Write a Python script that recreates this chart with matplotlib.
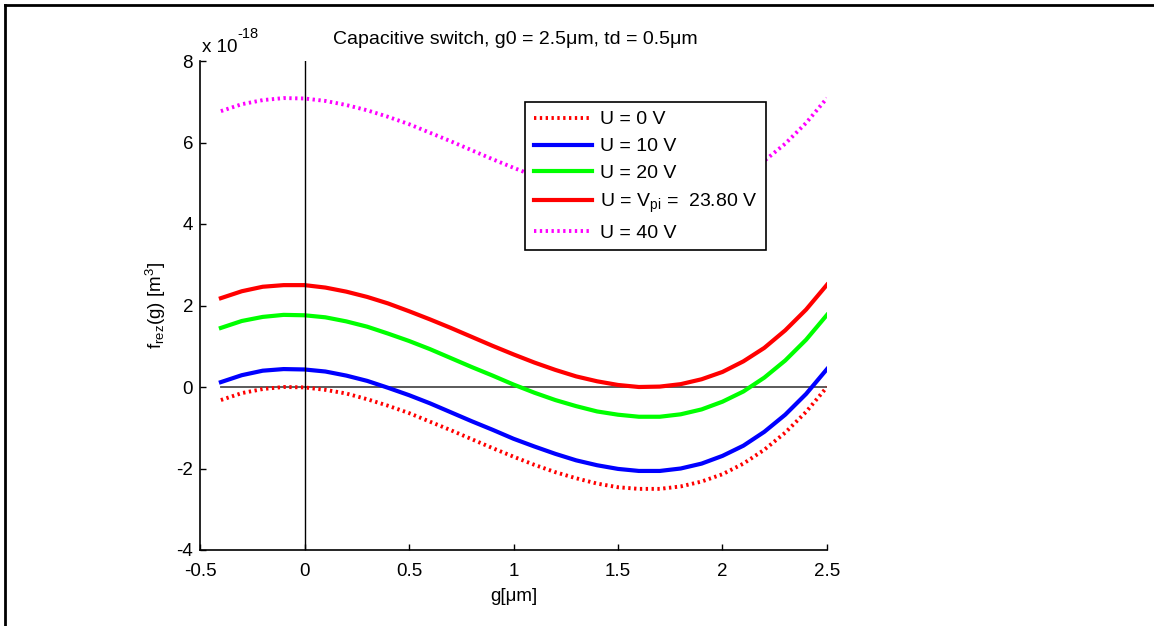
import matplotlib

matplotlib.use("Agg")
import matplotlib.pyplot as plt
from matplotlib.lines import Line2D

plt.rcParams["font.family"] = ["Liberation Sans", "DejaVu Sans"]
plt.rcParams["mathtext.fontset"] = "custom"
plt.rcParams["mathtext.rm"] = "Liberation Sans"
plt.rcParams["mathtext.it"] = "Liberation Sans"
plt.rcParams["axes.unicode_minus"] = False

# gap g in um
g = [-0.4, -0.3, -0.2, -0.1, 0.0, 0.1, 0.2, 0.3, 0.4, 0.5,
     0.6, 0.7, 0.8, 0.9, 1.0, 1.1, 1.2, 1.3, 1.4, 1.5,
     1.6, 1.7, 1.8, 1.9, 2.0, 2.1, 2.2, 2.3, 2.4, 2.5]

# f_rez(g) in units of 1e-18 m^3
u0 = [-0.32, -0.15, -0.05, -0.00, -0.01, -0.07, -0.16, -0.30, -0.46, -0.64,
      -0.85, -1.06, -1.28, -1.50, -1.71, -1.91, -2.09, -2.24, -2.37, -2.46,
      -2.50, -2.50, -2.44, -2.32, -2.14, -1.88, -1.54, -1.12, -0.61, 0.00]
u10 = [0.12, 0.29, 0.40, 0.44, 0.43, 0.38, 0.28, 0.15, -0.02, -0.20,
       -0.40, -0.62, -0.84, -1.05, -1.27, -1.46, -1.64, -1.80, -1.92, -2.01,
       -2.06, -2.06, -2.00, -1.88, -1.69, -1.44, -1.10, -0.68, -0.17, 0.44]
u20 = [1.45, 1.62, 1.72, 1.77, 1.76, 1.71, 1.61, 1.48, 1.31, 1.13,
       0.93, 0.71, 0.49, 0.28, 0.06, -0.14, -0.32, -0.47, -0.60, -0.68,
       -0.73, -0.73, -0.67, -0.55, -0.36, -0.11, 0.23, 0.65, 1.16, 1.77]
u_pi = [2.18, 2.35, 2.46, 2.50, 2.50, 2.44, 2.34, 2.21, 2.05, 1.86,
        1.66, 1.45, 1.23, 1.01, 0.80, 0.60, 0.42, 0.26, 0.14, 0.05,
        0.00, 0.01, 0.07, 0.19, 0.37, 0.63, 0.96, 1.39, 1.90, 2.51]
u40 = [6.77, 6.94, 7.04, 7.09, 7.08, 7.02, 6.92, 6.79, 6.63, 6.45,
       6.24, 6.03, 5.81, 5.59, 5.38, 5.18, 5.00, 4.85, 4.72, 4.63,
       4.59, 4.59, 4.65, 4.77, 4.95, 5.21, 5.55, 5.97, 6.48, 7.09]

labels = ["U = 0 V", "U = 10 V", "U = 20 V",
          "U = V$_{\\mathrm{pi}}$ =  23.80 V", "U = 40 V"]

W, H = 1154, 626
fig = plt.figure(figsize=(W / 100, H / 100), dpi=100)
ax = fig.add_axes([200 / W, 1 - 550 / H, 627 / W, 489 / H])

dotted = (0, (0.6, 0.9))
ax.plot(g, [0] * len(g), color="#4d4d4d", lw=1.3, zorder=1)
ax.plot(g, u0, color="#ff0000", lw=2.8, linestyle=dotted, dash_capstyle="butt", label=labels[0], zorder=2)
ax.plot(g, u10, color="#0000ff", lw=3, label=labels[1], zorder=2)
ax.plot(g, u20, color="#00ff00", lw=3, label=labels[2], zorder=2)
ax.plot(g, u_pi, color="#ff0000", lw=3, label=labels[3], zorder=2)
ax.plot(g, u40, color="#ff00ff", lw=2.8, linestyle=dotted, dash_capstyle="butt", label=labels[4], zorder=2)
ax.axvline(0, color="black", lw=1, zorder=3)

ax.set_xlim(-0.5, 2.5)
ax.set_ylim(-4, 8)
ax.set_xticks([-0.5, 0, 0.5, 1, 1.5, 2, 2.5])
ax.set_xticklabels(["-0.5", "0", "0.5", "1", "1.5", "2", "2.5"])
ax.set_yticks([-4, -2, 0, 2, 4, 6, 8])
ax.spines["top"].set_visible(False)
ax.spines["right"].set_visible(False)
for s in ("left", "bottom"):
    ax.spines[s].set_linewidth(1.2)
ax.tick_params(direction="in", length=4, width=1, labelsize=13.5)
ax.tick_params(axis="x", pad=9)
ax.tick_params(axis="y", pad=5)

ax.set_xlabel("g[μm]", fontsize=13.5, labelpad=6)
ax.set_ylabel("f$_{\\mathrm{rez}}$(g) [m$^3$]", fontsize=13.5, labelpad=6)

fig.text(515 / W, 1 - 40 / H, "Capacitive switch, g0 = 2.5μm, td = 0.5μm",
         ha="center", va="center", fontsize=14)
# exponent label, MATLAB style
fig.text(202 / W, 1 - 47 / H, "x 10", ha="left", va="center", fontsize=13.5)
fig.text(237 / W, 1 - 34 / H, "-18", ha="left", va="center", fontsize=10.5)

leg = ax.legend(loc="upper left", bbox_to_anchor=(525 / W, 1 - 102 / H),
                bbox_transform=fig.transFigure, fontsize=14, frameon=True,
                fancybox=False, framealpha=1, edgecolor="black",
                handlelength=3.0, handletextpad=0.4, borderpad=0.45,
                labelspacing=0.48, borderaxespad=0)
leg.get_frame().set_linewidth(1.2)

# figure frame (top and left edges)
fig.add_artist(Line2D([5 / W, 5 / W], [0, 1 - 5 / H], transform=fig.transFigure, color="black", lw=2))
fig.add_artist(Line2D([5 / W, 1], [1 - 5 / H, 1 - 5 / H], transform=fig.transFigure, color="black", lw=2))

fig.savefig("out.png", dpi=100)
